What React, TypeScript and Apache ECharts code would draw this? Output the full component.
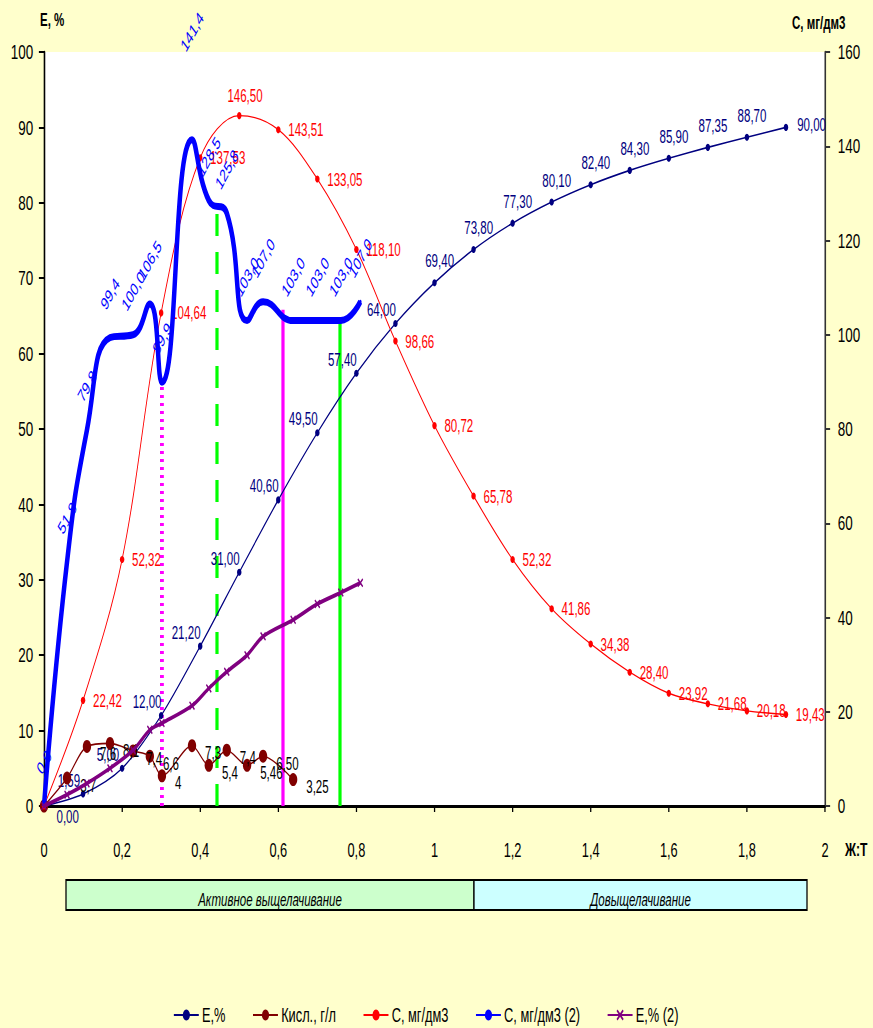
import React, { useEffect, useRef } from 'react';
import * as echarts from 'echarts';

// ---- data ----
const eX = [0, 0.1, 0.2, 0.3, 0.4, 0.5, 0.6, 0.7, 0.8, 0.9, 1.0, 1.1, 1.2, 1.3, 1.4, 1.5, 1.6, 1.7, 1.8, 1.9];
const eVals = [0, 1.59, 5.0, 12.0, 21.2, 31.0, 40.6, 49.5, 57.4, 64.0, 69.4, 73.8, 77.3, 80.1, 82.4, 84.3, 85.9, 87.35, 88.7, 90.0];
const cVals = [0, 22.42, 52.32, 104.64, 137.53, 146.5, 143.51, 133.05, 118.1, 98.66, 80.72, 65.78, 52.32, 41.86, 34.38, 28.4, 23.92, 21.68, 20.18, 19.43];

const kX = [0, 0.059, 0.11, 0.169, 0.228, 0.271, 0.302, 0.379, 0.422, 0.468, 0.52, 0.561, 0.638, 0.7, 0.76, 0.81];
const kislVals = [0, 3.7, 7.9, 8.3, 7.3, 6.6, 4.0, 8.0, 5.4, 7.4, 5.4, 6.6, 3.5];
const kislLabels = ['', '3,7', '7,6', '8,1', '7,4', '6,6', '4', '7,3', '5,4', '7,4', '5,46', '6,50', '3,25'];
const c2Vals = [0, 51.8, 79.8, 99.4, 100.0, 106.5, 89.9, 141.4, 128.5, 125.8, 103.0, 107.0, 103.0, 103.0, 103.0, 107.0];
const e2Vals = [0, 1.5, 3.0, 5.0, 7.4, 10.1, 11.0, 13.3, 15.6, 17.8, 20.0, 22.5, 24.7, 26.8, 28.3, 29.6];

const guideXs = [0.302, 0.443, 0.612, 0.758];
const guideTops = [89.9, 128.2, 105.3, 102.8];

const xTicks = { min: 0, max: 2, interval: 0.2 };
const yLeft = { min: 0, max: 100, interval: 10 };
const yRight = { min: 0, max: 160, interval: 20 };

const seriesNames = ['E,%', 'Кисл., г/л', 'C, мг/дм3', 'C, мг/дм3 (2)', 'E,% (2)'];
const phaseNames = ['Активное выщелачивание', 'Довыщелачивание'];

// ---- layout (the whole chart is drawn wide and compressed horizontally) ----
const S = 0.64;
const W = Math.round(873 / S);
const H = 1028;
const ux = (px: number) => px / S;
const FONT = '"Liberation Sans", Arial, sans-serif';

const comma = (v: number, d: number) => v.toFixed(d).replace('.', ',');

function buildOption() {
  const eData = eX.map((x, i) => {
    let offset: number[];
    if (i === 0) offset = [37, 10];
    else if (i === eX.length - 1) offset = [40, -3];
    else if (x < 0.95) offset = [-22, -14];
    else offset = [8, -22];
    return { value: [x, eVals[i]], label: { offset } };
  });
  const cData = eX.map((x, i) => {
    const peak = cVals[i] === Math.max(...cVals);
    return {
      value: [x, cVals[i]],
      label: i === 0 ? { show: false } : peak ? { position: 'top', distance: 8, offset: [9, 0] } : {},
    };
  });
  const kData = kislVals.map((v, i) => [kX[i], v]);
  const c2Max = Math.max(...c2Vals);
  const c2Data = c2Vals.map((v, i) => ({
    value: [kX[i], v],
    label: v === c2Max ? { distance: 106 } : {},
  }));
  const e2Data = e2Vals.map((v, i) => [kX[i], v]);

  const guideStyle = [
    { color: '#FF00FF', width: 6, type: [3, 5] },
    { color: '#00FF00', width: 5, type: [22, 16] },
    { color: '#FF00FF', width: 5, type: 'solid' },
    { color: '#00FF00', width: 5, type: 'solid' },
  ];
  const guides = guideXs.map((x, i) => ({
    type: 'line',
    yAxisIndex: 1,
    data: [[x, 0], [x, guideTops[i]]],
    symbol: 'none',
    silent: true,
    lineStyle: guideStyle[i],
    z: 1,
  }));

  const bandL = ux(66), bandM = ux(474), bandR = ux(807);
  const bandTop = 880, bandH = 30;

  return {
    animation: false,
    backgroundColor: '#FFFFCC',
    textStyle: { fontFamily: FONT },
    grid: {
      left: ux(44),
      right: W - ux(825),
      top: 52,
      bottom: H - 806,
      show: true,
      backgroundColor: '#FFFFFF',
      borderWidth: 0,
    },
    legend: {
      data: seriesNames,
      left: ux(170),
      top: 1000,
      itemWidth: 39,
      itemHeight: 14,
      itemGap: 42,
      textStyle: { fontSize: 20, color: '#000', fontFamily: FONT },
    },
    xAxis: {
      type: 'value',
      ...xTicks,
      axisLine: { show: true, onZero: false, lineStyle: { color: '#000', width: 3 } },
      axisTick: { show: true, length: 6, lineStyle: { color: '#000', width: 2 } },
      splitLine: { show: false },
      axisLabel: {
        margin: 34,
        fontSize: 20,
        color: '#000',
        fontFamily: FONT,
        formatter: (v: number) => String(+v.toFixed(1)).replace('.', ','),
      },
    },
    yAxis: [
      {
        type: 'value',
        position: 'left',
        ...yLeft,
        axisLine: { show: true, lineStyle: { color: '#000', width: 2.5 } },
        axisTick: { show: true, length: 8, lineStyle: { color: '#000', width: 2 } },
        splitLine: { show: false },
        axisLabel: { margin: 17, fontSize: 21, color: '#000', fontFamily: FONT },
      },
      {
        type: 'value',
        position: 'right',
        ...yRight,
        axisLine: { show: true, lineStyle: { color: '#333', width: 2.5 } },
        axisTick: { show: true, length: 8, lineStyle: { color: '#333', width: 2 } },
        splitLine: { show: false },
        axisLabel: { margin: 20, fontSize: 21, color: '#000', fontFamily: FONT },
      },
    ],
    graphic: [
      { type: 'text', left: ux(40), top: 10, style: { text: 'E, %', fontSize: 18, fontWeight: 'bold', fontFamily: FONT, fill: '#000' } },
      { type: 'text', left: ux(792), top: 13, style: { text: 'C, мг/дм3', fontSize: 18, fontWeight: 'bold', fontFamily: FONT, fill: '#000' } },
      { type: 'text', left: ux(845), top: 840, style: { text: 'Ж:Т', fontSize: 19, fontWeight: 'bold', fontFamily: FONT, fill: '#000' } },
      {
        type: 'rect',
        shape: { x: bandL, y: bandTop, width: bandM - bandL, height: bandH },
        style: { fill: '#CCFFCC', stroke: '#000', lineWidth: 2 },
      },
      {
        type: 'rect',
        shape: { x: bandM, y: bandTop, width: bandR - bandM, height: bandH },
        style: { fill: '#CCFFFF', stroke: '#000', lineWidth: 2 },
      },
      {
        type: 'text',
        x: (bandL + bandM) / 2,
        y: bandTop + 19,
        style: { text: phaseNames[0], fontSize: 18, fontStyle: 'italic', fontFamily: FONT, fill: '#000', align: 'center', verticalAlign: 'middle' },
      },
      {
        type: 'text',
        x: (bandM + bandR) / 2,
        y: bandTop + 19,
        style: { text: phaseNames[1], fontSize: 18, fontStyle: 'italic', fontFamily: FONT, fill: '#000', align: 'center', verticalAlign: 'middle' },
      },
    ],
    series: [
      ...guides,
      {
        name: seriesNames[0],
        type: 'line',
        yAxisIndex: 0,
        data: eData,
        smooth: 0.3,
        symbol: 'circle',
        symbolSize: 7,
        itemStyle: { color: '#000080' },
        lineStyle: { color: '#000080', width: 1.6 },
        label: {
          show: true,
          position: 'inside',
          color: '#000080',
          fontSize: 18,
          fontFamily: FONT,
          formatter: (p: any) => comma(p.value[1], 2),
        },
        z: 3,
      },
      {
        name: seriesNames[1],
        type: 'line',
        yAxisIndex: 0,
        data: kData,
        smooth: 0.3,
        symbol: 'circle',
        symbolSize: 13,
        itemStyle: { color: '#800000' },
        lineStyle: { color: '#800000', width: 1.6 },
        label: {
          show: true,
          position: 'right',
          distance: 14,
          offset: [0, 7],
          color: '#000',
          fontSize: 18,
          fontFamily: FONT,
          formatter: (p: any) => kislLabels[p.dataIndex] ?? '',
        },
        z: 4,
      },
      {
        name: seriesNames[2],
        type: 'line',
        yAxisIndex: 1,
        data: cData,
        smooth: 0.35,
        symbol: 'circle',
        symbolSize: 7,
        itemStyle: { color: '#FF0000' },
        lineStyle: { color: '#FF0000', width: 1.4 },
        label: {
          show: true,
          position: 'right',
          distance: 12,
          color: '#FF0000',
          fontSize: 18,
          fontFamily: FONT,
          formatter: (p: any) => comma(p.value[1], 2),
        },
        z: 5,
      },
      {
        name: seriesNames[3],
        type: 'line',
        yAxisIndex: 1,
        data: c2Data,
        smooth: 0.5,
        symbol: 'circle',
        symbolSize: 4,
        itemStyle: { color: '#0000FF' },
        lineStyle: { color: '#0000FF', width: 7 },
        label: {
          show: true,
          position: 'top',
          distance: 42,
          rotate: 50,
          align: 'center',
          verticalAlign: 'middle',
          color: '#0000FF',
          fontSize: 18,
          fontFamily: FONT,
          formatter: (p: any) => comma(p.value[1], 1),
        },
        z: 6,
      },
      {
        name: seriesNames[4],
        type: 'line',
        yAxisIndex: 0,
        data: e2Data,
        smooth: 0.3,
        symbol: 'path://M0,1.5L1.5,0L5,3.5L8.5,0L10,1.5L6.5,5L10,8.5L8.5,10L5,6.5L1.5,10L0,8.5L3.5,5Z',
        symbolSize: 9,
        itemStyle: { color: '#800080' },
        lineStyle: { color: '#800080', width: 4 },
        z: 7,
      },
    ],
  };
}

export default function App() {
  const ref = useRef<HTMLDivElement>(null);
  useEffect(() => {
    document.body.style.margin = '0';
    document.body.style.background = '#FFFFCC';
    const chart = echarts.init(ref.current as HTMLDivElement, null, { renderer: 'svg', width: W, height: H });
    chart.setOption(buildOption() as any);
    return () => chart.dispose();
  }, []);
  return (
    <div style={{ width: 873, height: 1028, overflow: 'hidden', background: '#FFFFCC' }}>
      <div
        ref={ref}
        style={{ width: W, height: H, transform: `scaleX(${S})`, transformOrigin: '0 0' }}
      />
    </div>
  );
}
